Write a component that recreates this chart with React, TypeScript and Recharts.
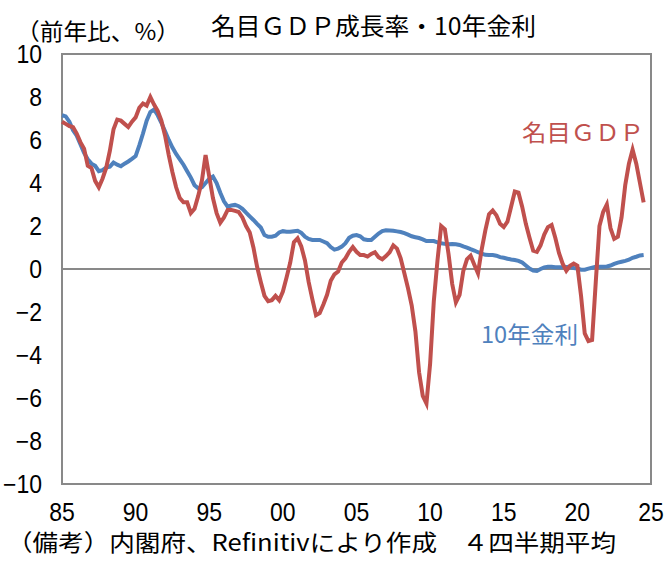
import React from "react";
import {
  LineChart,
  Line,
  XAxis,
  YAxis,
  ReferenceLine,
  ReferenceArea,
} from "recharts";

// quarterly, 1985Q1 .. 2024Q3, 4-quarter averages, % yoy
const START_YEAR = 1985;

const nominalGdp = [
  6.85, 6.75, 6.65, 6.6, // 85
  6.3, 5.9, 5.6, 4.8, // 86
  4.7, 4.1, 3.8, 4.2, // 87
  4.7, 5.5, 6.5, 6.95, // 88
  6.9, 6.75, 6.6, 6.85, // 89
  7.05, 7.5, 7.7, 7.6, // 90
  8.0, 7.65, 7.35, 6.9, // 91
  6.2, 5.3, 4.5, 3.8, // 92
  3.3, 3.1, 3.1, 2.6, // 93
  2.8, 3.4, 4.1, 5.3, // 94
  4.3, 3.3, 2.6, 2.15, // 95
  2.4, 2.75, 2.75, 2.7, // 96
  2.65, 2.4, 2.0, 1.7, // 97
  1.0, 0.1, -0.6, -1.25, // 98
  -1.5, -1.45, -1.25, -1.45, // 99
  -1.05, -0.4, 0.3, 1.25, // 00
  1.43, 1.05, 0.4, -0.6, // 01
  -1.4, -2.15, -2.05, -1.65, // 02
  -1.2, -0.55, -0.25, -0.12, // 03
  0.3, 0.5, 0.8, 1.02, // 04
  0.8, 0.65, 0.65, 0.58, // 05
  0.7, 0.78, 0.55, 0.45, // 06
  0.6, 0.78, 1.1, 0.95, // 07
  0.5, -0.2, -0.9, -1.7, // 08
  -2.9, -4.8, -5.9, -6.25, // 09
  -4.4, -1.5, 0.4, 2.0, // 10
  1.85, 0.7, -0.7, -1.55, // 11
  -1.2, -0.1, 0.45, 0.62, // 12
  0.2, -0.2, 0.9, 1.8, // 13
  2.55, 2.72, 2.5, 2.1, // 14
  1.95, 2.2, 2.9, 3.6, // 15
  3.55, 2.9, 2.1, 1.45, // 16
  0.85, 0.8, 1.1, 1.6, // 17
  1.95, 2.05, 1.45, 0.75, // 18
  0.25, -0.08, 0.15, 0.25, // 19
  0.15, -1.25, -3.0, -3.35, // 20
  -3.3, -0.6, 2.0, 2.65, // 21
  3.0, 1.9, 1.4, 1.5, // 22
  2.4, 3.9, 4.9, 5.55, // 23
  4.9, 4.0, 3.1, // 24
];

const jgb10y = [
  7.15, 7.1, 6.85, 6.45, // 85
  6.2, 5.8, 5.4, 5.1, // 86
  4.9, 4.8, 4.55, 4.6, // 87
  4.72, 4.76, 4.95, 4.85, // 88
  4.78, 4.9, 5.0, 5.12, // 89
  5.25, 5.75, 6.3, 6.9, // 90
  7.3, 7.42, 7.15, 6.8, // 91
  6.4, 6.0, 5.65, 5.35, // 92
  5.1, 4.85, 4.55, 4.25, // 93
  3.9, 3.75, 3.8, 4.0, // 94
  4.2, 4.3, 4.0, 3.55, // 95
  3.15, 2.9, 2.95, 2.98, // 96
  2.92, 2.8, 2.62, 2.45, // 97
  2.28, 2.1, 1.93, 1.58, // 98
  1.5, 1.5, 1.55, 1.7, // 99
  1.76, 1.73, 1.73, 1.76, // 00
  1.78, 1.68, 1.5, 1.4, // 01
  1.35, 1.35, 1.35, 1.28, // 02
  1.2, 1.02, 0.9, 0.95, // 03
  1.04, 1.2, 1.45, 1.55, // 04
  1.58, 1.52, 1.38, 1.35, // 05
  1.35, 1.5, 1.65, 1.76, // 06
  1.8, 1.79, 1.78, 1.75, // 07
  1.72, 1.67, 1.6, 1.52, // 08
  1.48, 1.44, 1.38, 1.3, // 09
  1.3, 1.3, 1.24, 1.2, // 10
  1.17, 1.15, 1.16, 1.15, // 11
  1.12, 1.05, 0.99, 0.92, // 12
  0.86, 0.78, 0.72, 0.66, // 13
  0.65, 0.65, 0.62, 0.55, // 14
  0.52, 0.48, 0.44, 0.42, // 15
  0.38, 0.3, 0.16, 0.02, // 16
  -0.07, -0.09, 0.0, 0.07, // 17
  0.1, 0.1, 0.08, 0.08, // 18
  0.08, 0.09, 0.1, 0.05, // 19
  0.02, -0.03, -0.03, 0.02, // 20
  0.06, 0.1, 0.1, 0.1, // 21
  0.12, 0.16, 0.24, 0.3, // 22
  0.34, 0.38, 0.43, 0.52, // 23
  0.57, 0.63, 0.65, // 24
];

const xTicks = [1985, 1990, 1995, 2000, 2005, 2010, 2015, 2020, 2025];
const yTicks = [-10, -8, -6, -4, -2, 0, 2, 4, 6, 8, 10];

const data = nominalGdp.map((v, i) => ({
  t: START_YEAR + i / 4,
  gdp: v,
  jgb: jgb10y[i],
}));

const RED = "#C0504D";
const BLUE = "#4F81BD";
const GRAY = "#898989";
const JP = "'Noto Sans CJK JP', 'Noto Sans CJK SC', sans-serif";
const NUM = "'Liberation Sans', Arial, sans-serif";

function YTick({ y, payload }: any) {
  const v = payload.value;
  const label = v < 0 ? `\u2212${Math.abs(v)}` : `${v}`;
  return (
    <text
      transform={`translate(42,${y + 9}) scale(0.92,1)`}
      textAnchor="end"
      fontFamily={NUM}
      fontSize={25}
      fill="#000"
    >
      {label}
    </text>
  );
}

function XTick({ x, payload }: any) {
  const label = String(payload.value % 100).padStart(2, "0");
  return (
    <text
      transform={`translate(${x},${521}) scale(0.92,1)`}
      textAnchor="middle"
      fontFamily={NUM}
      fontSize={25}
      fill="#000"
    >
      {label}
    </text>
  );
}

export default function App() {
  return (
    <div
      style={{
        position: "absolute",
        left: 0,
        top: 0,
        width: 672,
        height: 574,
        background: "#fff",
      }}
    >
      <LineChart
        width={672}
        height={574}
        data={data}
        margin={{ top: 54, right: 21, left: 0, bottom: 60 }}
      >
        <XAxis
          dataKey="t"
          type="number"
          domain={[1985, 2025]}
          ticks={xTicks}
          tick={<XTick />}
          tickLine={false}
          axisLine={false}
          height={30}
          interval={0}
        />
        <YAxis
          type="number"
          domain={[-10, 10]}
          ticks={yTicks}
          tick={<YTick />}
          tickLine={false}
          axisLine={false}
          width={62}
          interval={0}
        />
        <ReferenceArea
          x1={1985}
          x2={2025}
          y1={-10}
          y2={10}
          fill="none"
          stroke={GRAY}
          strokeWidth={2}
        />
        <ReferenceLine y={0} stroke={GRAY} strokeWidth={2} />
        <Line
          dataKey="jgb"
          stroke={BLUE}
          strokeWidth={4}
          dot={false}
          type="linear"
          isAnimationActive={false}
        />
        <Line
          dataKey="gdp"
          stroke={RED}
          strokeWidth={4}
          dot={false}
          type="linear"
          isAnimationActive={false}
        />
      </LineChart>
      <svg
        width={672}
        height={574}
        style={{ position: "absolute", left: 0, top: 0, pointerEvents: "none" }}
      >
        <text x={16} y={40} fontFamily={JP} fontSize={23} textLength={164} lengthAdjust="spacingAndGlyphs">
          （前年比、%）
        </text>
        <text x={211} y={35} fontFamily={JP} fontSize={24} textLength={325} lengthAdjust="spacingAndGlyphs">
          名目ＧＤＰ成長率・10年金利
        </text>
        <text x={522} y={141} fontFamily={JP} fontSize={23} fill={RED} textLength={122} lengthAdjust="spacingAndGlyphs">
          名目ＧＤＰ
        </text>
        <text x={481} y={343} fontFamily={JP} fontSize={23} fill={BLUE} textLength={97} lengthAdjust="spacingAndGlyphs">
          10年金利
        </text>
        <text x={7} y={551} fontFamily={JP} fontSize={23} textLength={609} lengthAdjust="spacingAndGlyphs">
          （備考）内閣府、Refinitivにより作成　４四半期平均
        </text>
      </svg>
    </div>
  );
}
